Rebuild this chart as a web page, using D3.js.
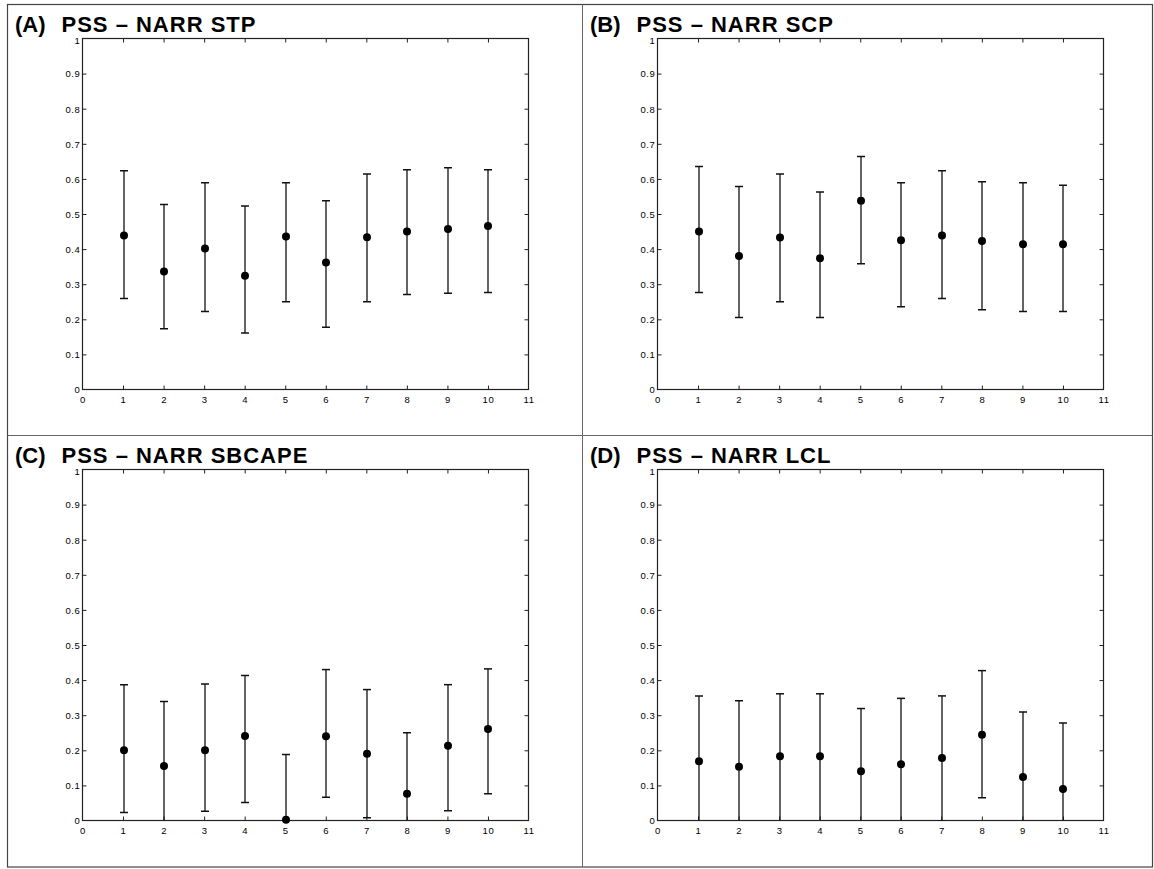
<!DOCTYPE html>
<html>
<head>
<meta charset="utf-8">
<script src="https://cdn.jsdelivr.net/npm/d3@7"></script>
<style>
  html, body { margin: 0; padding: 0; background: #fff; }
  svg { display: block; }
</style>
</head>
<body>
<svg id="chart" width="1154" height="869"></svg>
<script>
// ---------------- DATA ----------------
const categories = [1, 2, 3, 4, 5, 6, 7, 8, 9, 10];

const panelLetters = ["(A)", "(B)", "(C)", "(D)"];
const panelTitles = ["PSS \u2013 NARR STP", "PSS \u2013 NARR SCP", "PSS \u2013 NARR SBCAPE", "PSS \u2013 NARR LCL"];

const stpMean = [0.439, 0.336, 0.402, 0.324, 0.436, 0.362, 0.434, 0.450, 0.457, 0.466];
const stpLow  = [0.259, 0.173, 0.222, 0.161, 0.250, 0.177, 0.250, 0.271, 0.274, 0.276];
const stpHigh = [0.623, 0.527, 0.589, 0.523, 0.589, 0.538, 0.614, 0.626, 0.632, 0.626];

const scpMean = [0.450, 0.380, 0.433, 0.374, 0.538, 0.425, 0.439, 0.423, 0.414, 0.414];
const scpLow  = [0.276, 0.205, 0.250, 0.205, 0.358, 0.236, 0.259, 0.227, 0.222, 0.222];
const scpHigh = [0.635, 0.578, 0.614, 0.563, 0.664, 0.589, 0.623, 0.592, 0.589, 0.582];

const capeMean = [0.200, 0.155, 0.200, 0.241, 0.002, 0.240, 0.190, 0.076, 0.213, 0.261];
const capeLow  = [0.023, -0.030, 0.026, 0.051, -0.180, 0.066, 0.008, -0.100, 0.028, 0.076];
const capeHigh = [0.387, 0.339, 0.389, 0.413, 0.188, 0.430, 0.373, 0.250, 0.387, 0.432];

const lclMean = [0.169, 0.153, 0.183, 0.183, 0.140, 0.160, 0.178, 0.244, 0.124, 0.090];
const lclLow  = [-0.017, -0.035, -0.005, -0.005, -0.040, -0.028, -0.001, 0.065, -0.060, -0.098];
const lclHigh = [0.355, 0.341, 0.361, 0.361, 0.319, 0.348, 0.355, 0.427, 0.309, 0.278];

const xTicks = [0, 1, 2, 3, 4, 5, 6, 7, 8, 9, 10, 11];
const xTickLabels = ["0", "1", "2", "3", "4", "5", "6", "7", "8", "9", "10", "11"];
const yTicks = [0, 0.1, 0.2, 0.3, 0.4, 0.5, 0.6, 0.7, 0.8, 0.9, 1];
const yTickLabels = ["0", "0.1", "0.2", "0.3", "0.4", "0.5", "0.6", "0.7", "0.8", "0.9", "1"];

// ---------------- LAYOUT ----------------
const svg = d3.select("#chart");

const cellX = [7.5, 582.5];
const cellY = [4.5, 435.5];
const plotOffsets = { left: 74.5, top: 33.5, width: 446, height: 351 };

const panelData = [
  { mean: stpMean, low: stpLow, high: stpHigh },
  { mean: scpMean, low: scpLow, high: scpHigh },
  { mean: capeMean, low: capeLow, high: capeHigh },
  { mean: lclMean, low: lclLow, high: lclHigh }
];

// Outer frame and dividers
svg.append("rect")
  .attr("x", 7.5).attr("y", 4.5)
  .attr("width", 1145).attr("height", 862.5)
  .attr("fill", "none").attr("stroke", "#444").attr("stroke-width", 1.2);
svg.append("line")
  .attr("x1", 582.5).attr("x2", 582.5).attr("y1", 4.5).attr("y2", 867)
  .attr("stroke", "#666").attr("stroke-width", 1);
svg.append("line")
  .attr("x1", 7.5).attr("x2", 1152.5).attr("y1", 435.5).attr("y2", 435.5)
  .attr("stroke", "#666").attr("stroke-width", 1);

const fontFam = "'Liberation Sans', Arial, Helvetica, sans-serif";

panelData.forEach((pd, i) => {
  const col = i % 2, row = Math.floor(i / 2);
  const ox = cellX[col], oy = cellY[row];
  const left = Math.round(ox + plotOffsets.left) + 0.5;
  const top = Math.round(oy + plotOffsets.top) + 0.5;
  const pw = plotOffsets.width, ph = plotOffsets.height;

  // title
  const t = svg.append("text")
    .attr("x", ox + 7.5).attr("y", oy + 27.5)
    .attr("font-family", fontFam)
    .attr("font-weight", "bold")
    .attr("font-size", "22px")
    .attr("fill", "#000");
  t.append("tspan").text(panelLetters[i]);
  t.append("tspan").attr("x", ox + 54).attr("letter-spacing", "1px").text(panelTitles[i]);

  const g = svg.append("g").attr("transform", `translate(${left},${top})`);

  const x = d3.scaleLinear().domain([0, 11]).range([0, pw]);
  const y = d3.scaleLinear().domain([0, 1]).range([ph, 0]);

  const clipId = "clip" + i;
  g.append("clipPath").attr("id", clipId)
    .append("rect").attr("x", 0).attr("y", 0).attr("width", pw).attr("height", ph);

  const axisColor = "#222";
  const styleAxis = sel => {
    sel.select(".domain").remove();
    sel.selectAll(".tick line").attr("stroke", axisColor).attr("stroke-width", 1);
    sel.selectAll(".tick text")
      .attr("font-family", fontFam)
      .attr("font-size", "9.5px")
      .attr("letter-spacing", "0.6px")
      .attr("fill", "#000");
  };

  const innerX = xTicks.filter(v => v > 0 && v < 11);
  const innerY = yTicks.filter(v => v > 0 && v < 1);

  const bottom = g.append("g").attr("transform", `translate(0,${ph})`)
    .call(d3.axisBottom(x).tickValues(xTicks)
      .tickFormat((d, k) => xTickLabels[k]).tickSize(-4).tickPadding(7));
  styleAxis(bottom);
  bottom.selectAll(".tick").filter(d => d === 0 || d === 11).select("line").remove();

  const topAx = g.append("g")
    .call(d3.axisTop(x).tickValues(innerX).tickFormat("").tickSize(-4));
  styleAxis(topAx);

  const leftAx = g.append("g")
    .call(d3.axisLeft(y).tickValues(yTicks)
      .tickFormat((d, k) => yTickLabels[k]).tickSize(-4).tickPadding(2));
  styleAxis(leftAx);
  leftAx.selectAll(".tick").filter(d => d === 0 || d === 1).select("line").remove();
  leftAx.selectAll(".tick text").attr("dy", "0.35em");
  leftAx.selectAll(".tick").filter(d => d === 1).select("text").attr("dy", "0.5em");

  const rightAx = g.append("g").attr("transform", `translate(${pw},0)`)
    .call(d3.axisRight(y).tickValues(innerY).tickFormat("").tickSize(-4));
  styleAxis(rightAx);

  // box
  g.append("rect")
    .attr("x", 0).attr("y", 0).attr("width", pw).attr("height", ph)
    .attr("fill", "none").attr("stroke", axisColor).attr("stroke-width", 1.2);

  // error bars
  const bars = g.append("g").attr("clip-path", `url(#${clipId})`);
  const capW = 4;
  categories.forEach((c, k) => {
    const cx = Math.round(x(c)) + 0.5;
    const yLo = y(pd.low[k]), yHi = y(pd.high[k]);
    bars.append("line")
      .attr("x1", cx).attr("x2", cx).attr("y1", yLo).attr("y2", yHi)
      .attr("stroke", "#111").attr("stroke-width", 1.3);
    [yLo, yHi].forEach(yy => {
      bars.append("line")
        .attr("x1", cx - capW).attr("x2", cx + capW).attr("y1", yy).attr("y2", yy)
        .attr("stroke", "#111").attr("stroke-width", 1.5);
    });
  });

  // markers
  g.append("g").selectAll("circle")
    .data(categories)
    .join("circle")
    .attr("cx", d => Math.round(x(d)) + 0.5)
    .attr("cy", (d, k) => y(pd.mean[k]))
    .attr("r", 4)
    .attr("fill", "#000");
});
</script>
</body>
</html>
